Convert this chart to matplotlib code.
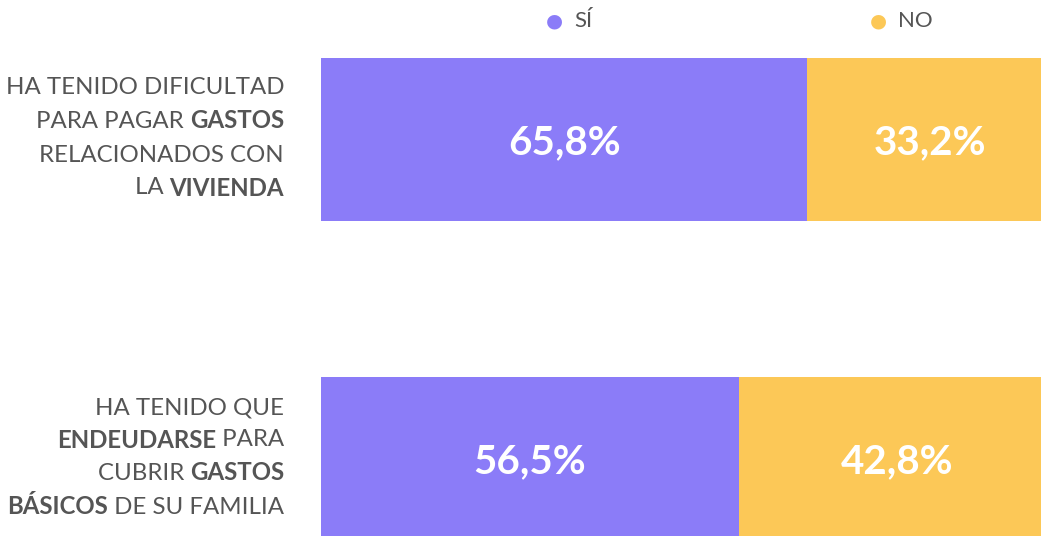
import matplotlib
matplotlib.use("Agg")
import matplotlib.pyplot as plt

label_lines = [
    [[("HA TENIDO DIFICULTAD", False)],
     [("PARA PAGAR ", False), ("GASTOS", True)],
     [("RELACIONADOS CON", False)],
     [("LA ", False), ("VIVIENDA", True)]],
    [[("HA TENIDO QUE", False)],
     [("ENDEUDARSE", True), (" PARA", False)],
     [("CUBRIR ", False), ("GASTOS", True)],
     [("BÁSICOS", True), (" DE SU FAMILIA", False)]],
]
series_names = ["SÍ", "NO"]
si_values = [65.8, 56.5]
no_values = [33.2, 42.8]
value_labels_si = ["65,8%", "56,5%"]
value_labels_no = ["33,2%", "42,8%"]

PURPLE = "#8B7CF8"
YELLOW = "#FCC857"
GRAY = "#555555"
FONT = "Lato"

W, H = 1041, 536
fig = plt.figure(figsize=(W / 100, H / 100), dpi=100)
ax = fig.add_axes([321 / W, 0, (W - 321) / W, 1])
ax.set_xlim(0, 720 / 7.39)
ax.set_ylim(1.243, -0.437)
ax.axis("off")

ypos = [0, 1]
bh = 0.511
ax.barh(ypos, si_values, height=bh, color=PURPLE, edgecolor="none")
ax.barh(ypos, no_values, left=si_values, height=bh, color=YELLOW, edgecolor="none")
for i, y in enumerate(ypos):
    ax.text(si_values[i] / 2, y + 0.01, value_labels_si[i], ha="center", va="center",
            color="white", fontsize=29, fontweight="bold", family=FONT)
    ax.text(si_values[i] + no_values[i] / 2, y + 0.01, value_labels_no[i], ha="center",
            va="center", color="white", fontsize=29, fontweight="bold", family=FONT)

# legend
legend_x = [554, 878]
for name, col, lx in zip(series_names, [PURPLE, YELLOW], legend_x):
    fig.text(lx / W, 1 - 21 / H, "●", color=col, fontsize=14, ha="center", va="center",
             family="DejaVu Sans")
    fig.text((lx + 20) / W, 1 - 21 / H, name, color=GRAY, fontsize=16, ha="left",
             va="center", family=FONT)

# category labels, right-aligned mixed-weight lines
renderer = fig.canvas.get_renderer()
right_px = 284
line_centers = [[88, 121, 155, 188], [408, 440, 473, 507]]
for lines, centers in zip(label_lines, line_centers):
    for parts, cy in zip(lines, centers):
        x = right_px
        for txt, bold in reversed(parts):
            t = fig.text(x / W, 1 - cy / H, txt, color=GRAY, fontsize=17.3,
                         fontweight="bold" if bold else "normal", ha="right",
                         va="center", family=FONT)
            x -= t.get_window_extent(renderer).width

fig.savefig("out.png", dpi=100)
